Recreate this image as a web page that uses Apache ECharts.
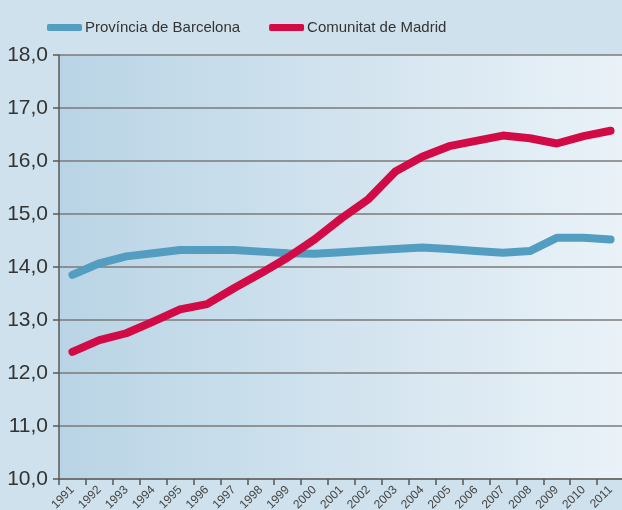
<!DOCTYPE html>
<html>
<head>
<meta charset="utf-8">
<script src="https://cdn.jsdelivr.net/npm/echarts@6/dist/echarts.min.js"></script>
<style>
  html, body { margin: 0; padding: 0; background: #cfe1ec; }
  #chart { width: 622px; height: 510px; }
</style>
</head>
<body>
<div id="chart"></div>
<script>
// Years on the horizontal axis
const years = ['1991','1992','1993','1994','1995','1996','1997','1998','1999','2000',
               '2001','2002','2003','2004','2005','2006','2007','2008','2009','2010','2011'];

// Series values
const barcelona = [13.85, 14.07, 14.20, 14.26, 14.32, 14.32, 14.32, 14.29, 14.26, 14.25,
                   14.28, 14.31, 14.34, 14.37, 14.34, 14.30, 14.27, 14.30, 14.55, 14.55, 14.52];
const madrid = [12.40, 12.62, 12.75, 12.97, 13.20, 13.30, 13.60, 13.88, 14.18, 14.52,
                14.92, 15.28, 15.80, 16.08, 16.28, 16.38, 16.48, 16.43, 16.33, 16.47, 16.57];

const seriesNames = ['Província de Barcelona', 'Comunitat de Madrid'];
const seriesColors = ['#529dc0', '#d20a45'];

const chart = echarts.init(document.getElementById('chart'));

chart.setOption({
  backgroundColor: '#cfe1ec',
  animation: false,
  legend: {
    left: 42,
    top: 15,
    itemWidth: 35,
    itemHeight: 7,
    itemGap: 29,
    icon: 'roundRect',
    textStyle: {
      fontFamily: "'Liberation Sans', sans-serif",
      fontSize: 15,
      color: '#333333',
      padding: [0, 0, 0, -2]
    },
    data: seriesNames
  },
  grid: {
    left: 59,
    top: 55,
    width: 565,
    height: 424,
    outerBoundsMode: 'none',
    show: true,
    borderWidth: 0,
    backgroundColor: new echarts.graphic.LinearGradient(0, 0, 1, 0, [
      { offset: 0, color: '#b9d4e5' },
      { offset: 1, color: '#eaf2f8' }
    ])
  },
  xAxis: {
    type: 'category',
    data: years,
    boundaryGap: true,
    axisLine: { lineStyle: { color: '#6a6a6a', width: 1.5 } },
    axisTick: { show: true, length: 6, lineStyle: { color: '#555555', width: 1.5 } },
    axisLabel: {
      rotate: 45,
      interval: 0,
      margin: 9,
      fontFamily: "'Liberation Sans', sans-serif",
      fontSize: 12,
      color: '#444444'
    }
  },
  yAxis: {
    type: 'value',
    min: 10,
    max: 18,
    interval: 1,
    axisLine: { show: true, lineStyle: { color: '#5a5a5a', width: 1.5 } },
    axisTick: { show: true, length: 6, lineStyle: { color: '#5a5a5a', width: 1.5 } },
    splitLine: { show: true, lineStyle: { color: '#7a7a7a', width: 1.5 } },
    axisLabel: {
      margin: 11,
      fontFamily: "'Liberation Sans', sans-serif",
      fontSize: 21,
      color: '#333333',
      formatter: v => v.toFixed(1).replace('.', ',')
    }
  },
  series: [
    {
      name: seriesNames[0],
      type: 'line',
      data: barcelona,
      symbol: 'none',
      color: seriesColors[0],
      lineStyle: { width: 8, color: seriesColors[0], cap: 'round', join: 'round' }
    },
    {
      name: seriesNames[1],
      type: 'line',
      data: madrid,
      symbol: 'none',
      color: seriesColors[1],
      lineStyle: { width: 8, color: seriesColors[1], cap: 'round', join: 'round' }
    }
  ]
});
</script>
</body>
</html>
